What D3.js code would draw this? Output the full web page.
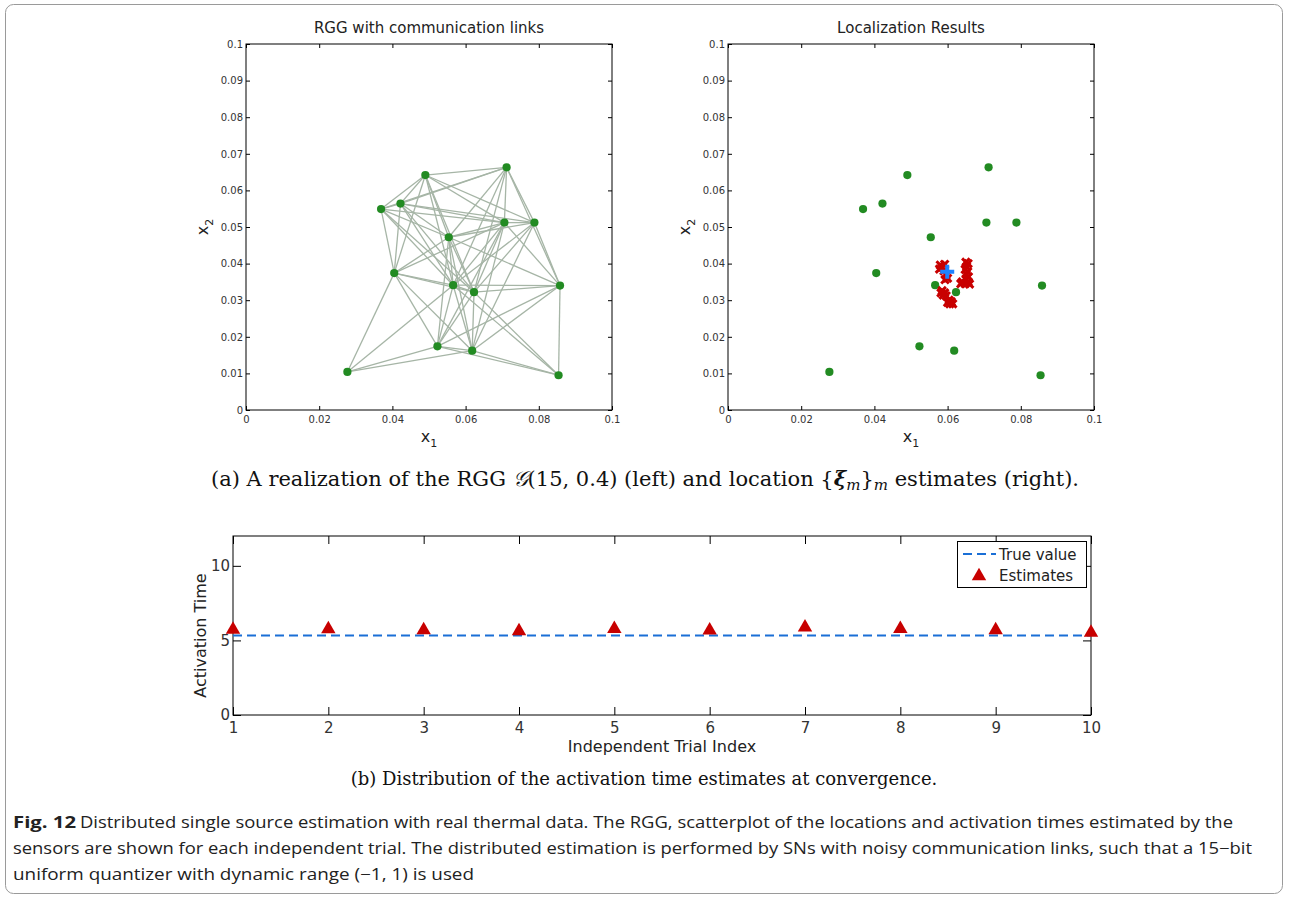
<!DOCTYPE html>
<html>
<head>
<meta charset="utf-8">
<script src="https://cdn.jsdelivr.net/npm/d3@7"></script>
<style>
  body { margin: 0; background: #fff; }
  svg { display: block; }
  .tick text { fill: #333; }
</style>
</head>
<body>
<svg id="fig" width="1289" height="900"></svg>
<script>
// sensor positions (same in both top panels)
const sensorX = [0.0277, 0.0369, 0.0422, 0.0405, 0.0490, 0.0554, 0.0566, 0.0523, 0.0618, 0.0623, 0.0712, 0.0706, 0.0788, 0.0858, 0.0854];
const sensorY = [0.0104, 0.0549, 0.0564, 0.0374, 0.0642, 0.0472, 0.0341, 0.0174, 0.0162, 0.0322, 0.0663, 0.0512, 0.0512, 0.0340, 0.0095];

// communication links, 1-based sensor indices
const links = [
  [1,4],[1,7],[1,8],[1,9],
  [2,3],[2,4],[2,5],[2,6],[2,7],[2,10],[2,11],[2,12],
  [3,4],[3,5],[3,6],[3,7],[3,10],[3,11],[3,12],[3,13],
  [4,5],[4,6],[4,7],[4,8],[4,9],[4,10],[4,12],
  [5,6],[5,7],[5,10],[5,11],[5,12],[5,13],
  [6,7],[6,8],[6,9],[6,10],[6,11],[6,12],[6,13],[6,14],
  [7,8],[7,9],[7,10],[7,11],[7,12],[7,13],[7,14],[7,15],
  [8,9],[8,10],[8,12],[8,14],[8,15],
  [9,10],[9,12],[9,13],[9,14],[9,15],
  [10,11],[10,12],[10,13],[10,14],[10,15],
  [11,12],[11,13],[11,14],
  [12,13],[12,14],
  [13,14],
  [14,15]
];

// location estimates of the sensors
const estX = [0.0580, 0.0585, 0.0592, 0.0578, 0.0590, 0.0596, 0.0600, 0.0593,
              0.0650, 0.0656, 0.0652, 0.0648, 0.0655, 0.0651, 0.0657, 0.0650,
              0.0640, 0.0648, 0.0636, 0.0656, 0.0660,
              0.0585, 0.0592, 0.0588, 0.0596, 0.0582,
              0.0604, 0.0610, 0.0606, 0.0614, 0.0600];
const estY = [0.0396, 0.0390, 0.0398, 0.0385, 0.0380, 0.0368, 0.0360, 0.0356,
              0.0404, 0.0400, 0.0392, 0.0384, 0.0378, 0.0370, 0.0364, 0.0358,
              0.0350, 0.0345, 0.0345, 0.0350, 0.0344,
              0.0326, 0.0320, 0.0314, 0.0312, 0.0320,
              0.0300, 0.0296, 0.0290, 0.0290, 0.0294];
const sourceX = 0.0599;
const sourceY = 0.0378;

const xTicks = [0, 0.02, 0.04, 0.06, 0.08, 0.1];
const yTicks = [0, 0.01, 0.02, 0.03, 0.04, 0.05, 0.06, 0.07, 0.08, 0.09, 0.1];

// activation time panel
const trials = [1, 2, 3, 4, 5, 6, 7, 8, 9, 10];
const trueValue = 5.33;
const actEstimates = [5.72, 5.76, 5.70, 5.63, 5.78, 5.68, 5.88, 5.78, 5.70, 5.52];
const actYTicks = [0, 5, 10];

const svg = d3.select("#fig");
const green = "#228b22";
const tickFmt = d => d === 0 ? "0" : String(+d.toFixed(2));

function drawScatterFrame(left, title) {
    const cfg = {x0: left, x1: left + 366, y0: 44, y1: 410};
    const x = d3.scaleLinear().domain([0, 0.1]).range([cfg.x0, cfg.x1]);
    const y = d3.scaleLinear().domain([0, 0.1]).range([cfg.y1, cfg.y0]);
    const g = svg.append("g");

    g.append("g").attr("transform", `translate(0,${cfg.y1})`)
        .call(d3.axisBottom(x).tickValues(xTicks).tickFormat(tickFmt).tickSize(-4).tickPadding(6))
        .call(a => a.select(".domain").remove())
        .selectAll("text").style("font", "10px 'DejaVu Sans'");
    g.append("g").attr("transform", `translate(0,${cfg.y0})`)
        .call(d3.axisTop(x).tickValues(xTicks).tickFormat("").tickSize(-4))
        .call(a => a.select(".domain").remove());
    g.append("g").attr("transform", `translate(${cfg.x0},0)`)
        .call(d3.axisLeft(y).tickValues(yTicks).tickFormat(tickFmt).tickSize(-4).tickPadding(3))
        .call(a => a.select(".domain").remove())
        .selectAll("text").style("font", "10px 'DejaVu Sans'");
    g.append("g").attr("transform", `translate(${cfg.x1},0)`)
        .call(d3.axisRight(y).tickValues(yTicks).tickFormat("").tickSize(-4))
        .call(a => a.select(".domain").remove());

    g.append("rect")
        .attr("x", cfg.x0).attr("y", cfg.y0)
        .attr("width", cfg.x1 - cfg.x0).attr("height", cfg.y1 - cfg.y0)
        .attr("fill", "none").attr("stroke", "#000").attr("stroke-width", 1);

    const cx = (cfg.x0 + cfg.x1) / 2;
    g.append("text").attr("x", cx).attr("y", 33)
        .attr("text-anchor", "middle").attr("fill", "#222")
        .style("font", "15px 'DejaVu Sans'").text(title);

    const xl = g.append("text").attr("x", cx).attr("y", 442)
        .attr("text-anchor", "middle").attr("fill", "#222")
        .style("font", "16px 'DejaVu Sans'");
    xl.append("tspan").text("x");
    xl.append("tspan").attr("dy", 5).style("font-size", "11px").text("1");

    const yl = g.append("text")
        .attr("transform", `translate(${cfg.x0 - 38},${(cfg.y0 + cfg.y1) / 2}) rotate(-90)`)
        .attr("text-anchor", "middle").attr("fill", "#222")
        .style("font", "16px 'DejaVu Sans'");
    yl.append("tspan").text("x");
    yl.append("tspan").attr("dy", 5).style("font-size", "11px").text("2");

    return {g, x, y};
}

function drawSensors(p) {
    p.g.append("g").selectAll("circle")
        .data(sensorX)
        .enter()
        .append("circle")
        .attr("cx", d => p.x(d))
        .attr("cy", (d, i) => p.y(sensorY[i]))
        .attr("r", 4.1)
        .attr("fill", green);
}

// left panel: RGG
const left = drawScatterFrame(246, "RGG with communication links");
left.g.append("g").selectAll("line")
    .data(links)
    .enter()
    .append("line")
    .attr("x1", d => left.x(sensorX[d[0] - 1]))
    .attr("y1", d => left.y(sensorY[d[0] - 1]))
    .attr("x2", d => left.x(sensorX[d[1] - 1]))
    .attr("y2", d => left.y(sensorY[d[1] - 1]))
    .attr("stroke", "#a6b5a6")
    .attr("stroke-width", 1.3);
drawSensors(left);

// right panel: localization
const right = drawScatterFrame(728, "Localization Results");
drawSensors(right);
right.g.append("g").selectAll("path")
    .data(estX)
    .enter()
    .append("path")
    .attr("transform", (d, i) => `translate(${right.x(d)},${right.y(estY[i])})`)
    .attr("d", "M-3.8,-3.8L3.8,3.8M-3.8,3.8L3.8,-3.8")
    .attr("stroke", "#c80000")
    .attr("stroke-width", 3)
    .attr("fill", "none");
right.g.append("path")
    .attr("transform", `translate(${right.x(sourceX)},${right.y(sourceY)})`)
    .attr("d", "M-7,0L7,0M0,-7L0,7")
    .attr("stroke", "#1e82ff")
    .attr("stroke-width", 4)
    .attr("fill", "none");

// caption (a)
svg.append("text").attr("x", 645).attr("y", 486)
    .attr("text-anchor", "middle").attr("fill", "#111")
    .style("font", "21px 'DejaVu Serif'")
    .html("(a) A realization of the RGG <tspan font-style='italic'>𝒢</tspan>(15, 0.4) (left) and location {<tspan font-weight='bold' font-style='italic'>ξ</tspan><tspan font-style='italic' dy='4' font-size='15'>m</tspan><tspan dy='-4'>}</tspan><tspan font-style='italic' dy='4' font-size='15'>m</tspan><tspan dy='-4'> estimates (right).</tspan>");

// bottom panel: activation time
const bc = {x0: 233, x1: 1091, y0: 536, y1: 715};
const bx = d3.scaleLinear().domain([1, 10]).range([bc.x0, bc.x1]);
const by = d3.scaleLinear().domain([0, 12]).range([bc.y1, bc.y0]);
const bg = svg.append("g");

bg.append("g").attr("transform", `translate(0,${bc.y1})`)
    .call(d3.axisBottom(bx).tickValues(trials).tickFormat(d3.format("d")).tickSize(-8).tickPadding(7))
    .call(a => a.select(".domain").remove())
    .selectAll("text").style("font", "15px 'DejaVu Sans'");
bg.append("g").attr("transform", `translate(0,${bc.y0})`)
    .call(d3.axisTop(bx).tickValues(trials).tickFormat("").tickSize(-8))
    .call(a => a.select(".domain").remove());
bg.append("g").attr("transform", `translate(${bc.x0},0)`)
    .call(d3.axisLeft(by).tickValues(actYTicks).tickSize(-8).tickPadding(3))
    .call(a => a.select(".domain").remove())
    .selectAll("text").style("font", "15px 'DejaVu Sans'");
bg.append("g").attr("transform", `translate(${bc.x1},0)`)
    .call(d3.axisRight(by).tickValues(actYTicks).tickFormat("").tickSize(-8))
    .call(a => a.select(".domain").remove());
bg.append("rect")
    .attr("x", bc.x0).attr("y", bc.y0)
    .attr("width", bc.x1 - bc.x0).attr("height", bc.y1 - bc.y0)
    .attr("fill", "none").attr("stroke", "#000").attr("stroke-width", 1);

bg.append("line")
    .attr("x1", bx(1)).attr("x2", bx(10))
    .attr("y1", by(trueValue)).attr("y2", by(trueValue))
    .attr("stroke", "#1a6fd6").attr("stroke-width", 2)
    .attr("stroke-dasharray", "9,5");

const tri = d3.symbol().type(d3.symbolTriangle).size(90);
bg.append("g").selectAll("path")
    .data(trials)
    .enter()
    .append("path")
    .attr("transform", (d, i) => `translate(${bx(d)},${by(actEstimates[i])})`)
    .attr("d", tri)
    .attr("fill", "#c80000");

bg.append("text")
    .attr("transform", `translate(206,${(bc.y0 + bc.y1) / 2 + 10}) rotate(-90)`)
    .attr("text-anchor", "middle").attr("fill", "#222")
    .style("font", "16px 'DejaVu Sans'").text("Activation Time");
bg.append("text").attr("x", 662).attr("y", 752)
    .attr("text-anchor", "middle").attr("fill", "#222")
    .style("font", "16px 'DejaVu Sans'").text("Independent Trial Index");

// legend
const lg = bg.append("g");
lg.append("rect").attr("x", 957.5).attr("y", 541.5).attr("width", 129).attr("height", 46)
    .attr("fill", "#fff").attr("stroke", "#000");
lg.append("line").attr("x1", 963).attr("x2", 996).attr("y1", 554).attr("y2", 554)
    .attr("stroke", "#1a6fd6").attr("stroke-width", 2).attr("stroke-dasharray", "9,5");
lg.append("path").attr("transform", "translate(979,576)").attr("d", tri).attr("fill", "#c80000");
lg.append("text").attr("x", 999).attr("y", 560).attr("fill", "#222")
    .style("font", "15px 'DejaVu Sans'").text("True value");
lg.append("text").attr("x", 999).attr("y", 581).attr("fill", "#222")
    .style("font", "15px 'DejaVu Sans'").text("Estimates");

// caption (b)
svg.append("text").attr("x", 644).attr("y", 785)
    .attr("text-anchor", "middle").attr("fill", "#111")
    .style("font", "18px 'DejaVu Serif'")
    .text("(b) Distribution of the activation time estimates at convergence.");

// figure caption
const capFont = "16px 'Open Sans'";
svg.append("text").attr("x", 13).attr("y", 828).attr("fill", "#222")
    .style("font", "bold " + capFont).attr("textLength", 63).attr("lengthAdjust", "spacingAndGlyphs")
    .text("Fig. 12");
svg.append("text").attr("x", 80).attr("y", 828).attr("fill", "#222")
    .style("font", capFont).attr("textLength", 1153).attr("lengthAdjust", "spacingAndGlyphs")
    .text("Distributed single source estimation with real thermal data. The RGG, scatterplot of the locations and activation times estimated by the");
svg.append("text").attr("x", 13).attr("y", 854).attr("fill", "#222")
    .style("font", capFont).attr("textLength", 1239).attr("lengthAdjust", "spacingAndGlyphs")
    .text("sensors are shown for each independent trial. The distributed estimation is performed by SNs with noisy communication links, such that a 15\u2212bit");
svg.append("text").attr("x", 13).attr("y", 880).attr("fill", "#222")
    .style("font", capFont).attr("textLength", 461).attr("lengthAdjust", "spacingAndGlyphs")
    .text("uniform quantizer with dynamic range (\u22121, 1) is used");

// outer frame
svg.append("rect").attr("x", 5.5).attr("y", 4.5).attr("width", 1277).attr("height", 889)
    .attr("rx", 8).attr("fill", "none").attr("stroke", "#9a9a9a");
</script>
</body>
</html>
